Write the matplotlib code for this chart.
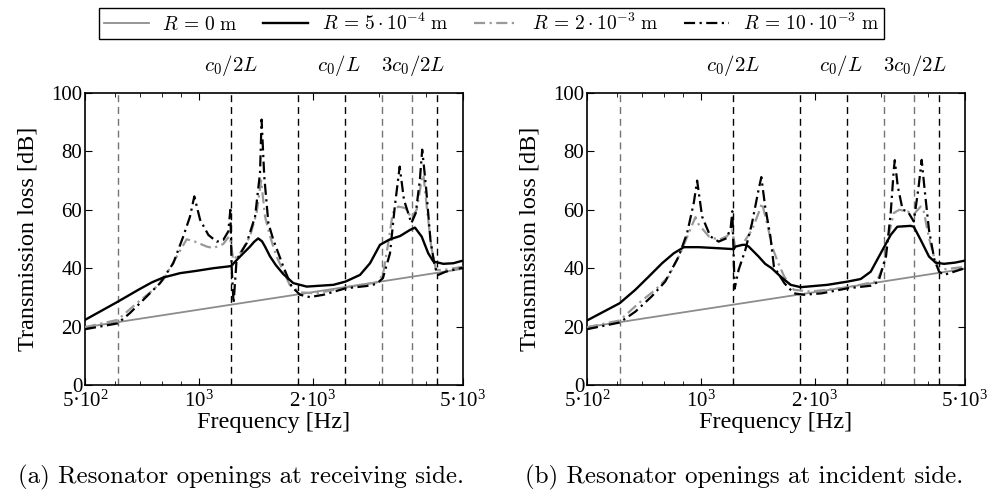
import numpy as np
import matplotlib
matplotlib.use("Agg")
import matplotlib.pyplot as plt
from matplotlib.ticker import FixedLocator, NullFormatter, LogLocator

plt.rcParams['font.family'] = ['Liberation Serif', 'DejaVu Serif']
plt.rcParams['mathtext.fontset'] = 'cm'

# frequencies of the dashed reference lines [Hz] and their colours
ref_freq = [610, 1220, 1830, 2440, 3050, 3660, 4270]
ref_color = ['0.45', 'k', 'k', 'k', '0.45', '0.45', 'k']
ref_labels = [r'$c_0/2L$', r'$c_0/L$', r'$3c_0/2L$']
ref_label_pos = [1220, 2340, 3700]

# R = 0 m (mass law, same in both panels)
f_r0 = [500, 1000, 2000, 5000]
tl_r0 = [19.8, 25.8, 31.8, 39.8]

# (a) openings at receiving side
f_a_r05 = [500, 610, 692, 750, 805, 892, 987, 1093, 1197, 1222, 1233, 1286, 1366,
           1400, 1436, 1470, 1497, 1544, 1600, 1673, 1778, 1930, 2270, 2442, 2670,
           2838, 3015, 3205, 3406, 3620, 3732, 3888, 4046, 4174, 4435, 4714, 5000]
tl_a_r05 = [22.3, 28.5, 32.6, 35.1, 36.8, 38.3, 39.1, 40.0, 40.6, 40.8, 41.5, 44.0, 47.4,
            49.0, 50.2, 49.2, 47.4, 44.0, 41.0, 38.0, 34.9, 33.7, 34.3, 35.4, 37.7,
            41.7, 48.0, 49.9, 51.0, 53.1, 53.9, 50.8, 45.1, 42.3, 41.5, 41.7, 42.6]

f_a_r2 = [500, 610, 685, 758, 805, 874, 929, 977, 1050, 1093, 1161, 1203, 1215, 1233,
          1286, 1366, 1422, 1462, 1497, 1544, 1600, 1673, 1740, 1853, 2050, 2442, 2950,
          3070, 3160, 3260, 3370, 3520, 3650, 3770, 3888, 3930, 4010, 4120, 4240, 4435, 5000]
tl_a_r2 = [19.8, 22.3, 28.0, 32.6, 36.0, 44.0, 49.9, 49.1, 47.4, 46.9, 48.3, 50.9, 49.0, 42.9,
           45.1, 50.9, 58.9, 70.0, 57.7, 50.9, 44.5, 39.0, 34.3, 31.7, 31.4, 33.4, 35.1,
           37.7, 47.4, 58.9, 61.1, 60.6, 57.3, 60.0, 70.3, 72.0, 61.0, 47.4, 39.4, 39.4, 40.5]

f_a_r10 = [500, 610, 657, 728, 790, 856, 910, 948, 973, 1008, 1060, 1115, 1161, 1197,
           1212, 1222, 1236, 1259, 1339, 1409, 1452, 1466, 1490, 1528, 1575, 1673, 1760,
           1853, 1967, 2137, 2442, 2780, 2950, 3070, 3205, 3300, 3400, 3490, 3580, 3650,
           3750, 3845, 3900, 3990, 4100, 4210, 4300, 4500, 5000]
tl_a_r10 = [19.1, 21.1, 24.6, 30.3, 34.9, 41.7, 50.9, 57.7, 64.6, 56.6, 51.4, 49.1, 49.7, 52.6,
            60.0, 40.0, 28.0, 42.9, 48.6, 57.7, 72.6, 90.9, 71.4, 55.4, 49.7, 40.6, 33.7,
            30.9, 30.1, 30.9, 33.1, 33.9, 34.6, 36.6, 45.1, 61.1, 74.8, 63.4, 58.9, 55.4,
            58.9, 70.3, 80.6, 68.0, 49.7, 40.6, 37.7, 38.8, 40.2]

# (b) openings at incident side
f_b_r05 = [500, 610, 671, 728, 790, 848, 902, 987, 1093, 1197, 1222, 1235, 1290, 1312,
           1339, 1422, 1480, 1540, 1627, 1729, 1838, 2161, 2442, 2649, 2815, 2992, 3180,
           3310, 3590, 3660, 3817, 4015, 4180, 4400, 4700, 5000]
tl_b_r05 = [22.1, 28.0, 32.6, 37.1, 41.7, 45.1, 47.2, 47.2, 46.9, 46.6, 46.5, 47.4, 48.0, 48.0,
            47.4, 44.0, 41.5, 40.0, 37.1, 34.3, 33.5, 34.3, 35.4, 36.3, 38.8, 45.1, 51.4,
            54.2, 54.5, 54.2, 49.7, 44.0, 41.9, 41.5, 41.9, 42.6]

f_b_r2 = [500, 610, 685, 758, 821, 883, 929, 968, 987, 1050, 1115, 1172, 1209, 1233,
          1286, 1366, 1422, 1452, 1497, 1544, 1600, 1663, 1763, 1950, 2442, 2920, 3040,
          3120, 3240, 3350, 3530, 3660, 3817, 3890, 4015, 4150, 4270, 5000]
tl_b_r2 = [19.8, 22.1, 28.0, 32.6, 37.1, 45.1, 52.0, 57.5, 55.0, 50.9, 49.7, 50.9, 53.1, 47.4,
           48.0, 53.1, 58.9, 62.3, 55.4, 47.4, 42.0, 37.1, 32.6, 32.0, 33.4, 35.5, 40.6,
           49.7, 58.9, 60.0, 59.4, 58.5, 61.1, 59.4, 50.3, 43.4, 39.4, 40.5]

f_b_r10 = [500, 610, 671, 741, 805, 874, 920, 958, 978, 1008, 1060, 1115, 1172, 1200,
           1212, 1229, 1259, 1312, 1366, 1422, 1446, 1480, 1528, 1561, 1663, 1763, 1870,
           2090, 2442, 2815, 2950, 3090, 3180, 3240, 3260, 3320, 3420, 3530, 3660, 3770,
           3840, 3910, 4015, 4150, 4270, 4400, 5000]
tl_b_r10 = [19.1, 21.4, 25.1, 30.3, 35.4, 44.0, 52.0, 62.3, 70.0, 57.7, 50.9, 49.1, 50.3, 54.0,
            59.5, 33.0, 39.4, 46.3, 55.4, 66.9, 71.2, 61.1, 50.9, 40.6, 34.9, 31.4, 30.9,
            31.4, 33.1, 34.0, 35.4, 44.0, 58.9, 73.7, 77.0, 68.0, 60.0, 59.4, 56.0, 68.0,
            77.1, 66.9, 53.1, 42.9, 38.8, 37.7, 40.0]

panels = [
    (f_a_r05, tl_a_r05, f_a_r2, tl_a_r2, f_a_r10, tl_a_r10,
     '(a) Resonator openings at receiving side.', 241),
    (f_b_r05, tl_b_r05, f_b_r2, tl_b_r2, f_b_r10, tl_b_r10,
     '(b) Resonator openings at incident side.', 744),
]

legend_labels = [r'$R\,=\,0\ \mathrm{m}$', r'$R\,=\,5\cdot10^{-4}\ \mathrm{m}$',
                 r'$R\,=\,2\cdot10^{-3}\ \mathrm{m}$', r'$R\,=\,10\cdot10^{-3}\ \mathrm{m}$']

xtick_vals = [500, 1000, 2000, 5000]
xtick_labels = [r'$\mathdefault{5·10^{2}}$', r'$\mathdefault{10^{3}}$',
                r'$\mathdefault{2·10^{3}}$', r'$\mathdefault{5·10^{3}}$']

fig = plt.figure(figsize=(9.88, 5.0), dpi=100)
lefts = [85 / 988, 587 / 988]

handles = None
for left, (f05, t05, f2, t2, f10, t10, caption, cap_x) in zip(lefts, panels):
    ax = fig.add_axes([left, 115 / 500, 378 / 988, 292 / 500])
    ax.set_xscale('log')

    for fr, c in zip(ref_freq, ref_color):
        ax.axvline(fr, color=c, lw=1.0, dashes=(5, 3.5), zorder=1)

    h0, = ax.plot(f_r0, tl_r0, color='0.55', lw=1.3, zorder=2)
    h2, = ax.plot(f2, t2, color='0.6', lw=1.6, dashes=(5, 2, 1, 2), zorder=3)
    h10, = ax.plot(f10, t10, color='k', lw=1.6, dashes=(5, 2, 1, 2), zorder=4)
    h05, = ax.plot(f05, t05, color='k', lw=1.7, zorder=5)
    handles = [h0, h05, h2, h10]

    ax.set_xlim(500, 5000)
    ax.set_ylim(0, 100)
    ax.set_yticks(np.arange(0, 101, 20))
    ax.xaxis.set_major_locator(FixedLocator(xtick_vals))
    ax.set_xticklabels(xtick_labels)
    ax.xaxis.set_minor_locator(LogLocator(base=10, subs=np.arange(2, 10)))
    ax.xaxis.set_minor_formatter(NullFormatter())
    ax.tick_params(which='both', direction='in', top=True, right=True, labelsize=15)
    ax.tick_params(axis='x', pad=4)
    ax.tick_params(axis='y', pad=2)
    ax.tick_params(which='major', length=5, width=0.8)
    ax.tick_params(which='minor', length=3, width=0.6)
    for sp in ax.spines.values():
        sp.set_linewidth(1.2)

    ax.set_xlabel('Frequency [Hz]', fontsize=17.5, labelpad=0)
    ax.set_ylabel('Transmission loss [dB]', fontsize=17.5, labelpad=9)

    for fr, txt in zip(ref_label_pos, ref_labels):
        ax.text(fr, 1.095, txt, transform=ax.get_xaxis_transform(),
                ha='center', va='center', fontsize=15)

    fig.text(cap_x / 988, 0.046, caption, ha='center', va='center',
             fontsize=18, family='cmr10')

fig.legend(handles, legend_labels, loc='upper center', bbox_to_anchor=(0.4975, 0.992),
           ncol=4, frameon=True, fancybox=False, edgecolor='k', framealpha=1,
           fontsize=14, handlelength=2.3, columnspacing=1.3, handletextpad=0.7,
           borderpad=0.25, borderaxespad=0.2).get_frame().set_linewidth(1.0)

fig.savefig('out.png', dpi=100)
